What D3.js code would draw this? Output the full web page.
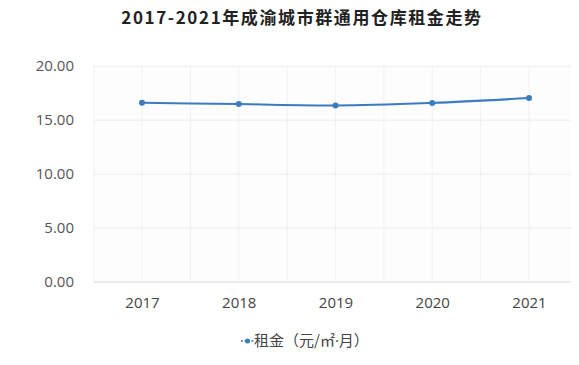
<!DOCTYPE html>
<html>
<head>
<meta charset="utf-8">
<script src="https://cdn.jsdelivr.net/npm/d3@7"></script>
<style>
  body { margin: 0; background: #fff; }
  text { font-family: "Noto Sans CJK SC", "Open Sans", sans-serif; }
</style>
</head>
<body>
<div id="chart"></div>
<script>
const years = ['2017', '2018', '2019', '2020', '2021'];
const rents = [16.56, 16.44, 16.32, 16.55, 17.0];
const yTicks = [0, 5, 10, 15, 20];
const seriesName = ['租金（元/㎡', '·', '月）'];
const title = '2017-2021年成渝城市群通用仓库租金走势';

const totalWidth = 579;
const totalHeight = 365;
const plot = { left: 94, right: 571, top: 65.7, bottom: 281.5 };
const color = '#3b7cc0';

const svg = d3.select('#chart')
  .append('svg')
  .attr('width', totalWidth)
  .attr('height', totalHeight);

const xScale = d3.scalePoint().domain(years).range([142, 529]);
const step = xScale.step();
const yScale = d3.scaleLinear().domain([0, 20]).range([plot.bottom, plot.top]);

// plot background
svg.append('rect')
  .attr('x', plot.left).attr('y', plot.top)
  .attr('width', plot.right - plot.left)
  .attr('height', plot.bottom - plot.top)
  .attr('fill', '#fdfdfe');

// vertical grid: at each category and half way between
const vLines = [];
years.forEach((y, i) => {
  vLines.push(xScale(y));
  if (i < years.length - 1) vLines.push(xScale(y) + step / 2);
});
vLines.push(plot.left);
svg.append('g')
  .selectAll('line')
  .data(vLines)
  .join('line')
  .attr('x1', (d) => d).attr('x2', (d) => d)
  .attr('y1', plot.top).attr('y2', plot.bottom)
  .attr('stroke', '#f1f1f4')
  .attr('stroke-width', 1);

// y axis with horizontal grid
svg.append('g')
  .attr('transform', `translate(${plot.left},0)`)
  .call(d3.axisLeft(yScale).tickValues(yTicks).tickFormat(d3.format('.2f')).tickSize(0).tickPadding(20))
  .call((g) => g.select('.domain').remove())
  .call((g) => g.selectAll('.tick text')
    .attr('fill', '#555')
    .style('font-size', '15px')
    .style('font-family', '"Open Sans", sans-serif'))
  .call((g) => g.selectAll('.tick line')
    .attr('x2', plot.right - plot.left)
    .attr('stroke', (d) => (d === 0 ? '#e2e2e6' : '#ececef'))
    .attr('stroke-width', (d) => (d === 0 ? 1.5 : 1)));

// x axis labels
svg.append('g')
  .attr('transform', `translate(0,${plot.bottom})`)
  .call(d3.axisBottom(xScale).tickSize(0).tickPadding(16))
  .call((g) => g.select('.domain').remove())
  .call((g) => g.selectAll('.tick text')
    .attr('fill', '#444')
    .style('font-size', '15px')
    .style('font-family', '"Open Sans", sans-serif'));

// line
const line = d3.line()
  .x((d, i) => xScale(years[i]))
  .y((d) => yScale(d))
  .curve(d3.curveMonotoneX);

svg.append('path')
  .datum(rents)
  .attr('d', line)
  .attr('fill', 'none')
  .attr('stroke', color)
  .attr('stroke-width', 2);

svg.append('g')
  .selectAll('circle')
  .data(rents)
  .join('circle')
  .attr('cx', (d, i) => xScale(years[i]))
  .attr('cy', (d) => yScale(d))
  .attr('r', 3)
  .attr('fill', color);

// title
svg.append('text')
  .attr('x', 302)
  .attr('y', 24)
  .attr('text-anchor', 'middle')
  .attr('fill', '#222')
  .style('font-size', '17px')
  .style('font-weight', 'bold')
  .style('letter-spacing', '1.6px')
  .text(title);

// legend
const legend = svg.append('g').attr('transform', 'translate(241,341)');
legend.append('line')
  .attr('x1', 0).attr('x2', 13).attr('y1', 0).attr('y2', 0)
  .attr('stroke', color).attr('stroke-width', 1.5)
  .attr('stroke-dasharray', '2,1.5');
legend.append('circle').attr('cx', 6.5).attr('cy', 0).attr('r', 2.5).attr('fill', color);
const legendText = legend.append('text')
  .attr('x', 13)
  .attr('y', 5)
  .attr('fill', '#444')
  .style('font-size', '15px');
legendText.selectAll('tspan')
  .data(seriesName)
  .join('tspan')
  .style('font-family', (d) => (d === '·' ? '"Open Sans", sans-serif' : null))
  .text((d) => d);
</script>
</body>
</html>
